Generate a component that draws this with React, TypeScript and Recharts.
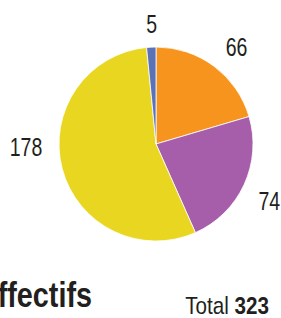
import React from "react";
import { PieChart, Pie, Cell } from "recharts";

const categories = ["A", "B", "C", "D"];
const values = [66, 74, 178, 5];
const colors = ["#F7941D", "#A65DAA", "#E9D620", "#5B72B6"];
const title = "Effectifs";
const totalLabel = "Total";
const totalValue = 323;

const data = categories.map((name, i) => ({ name, value: values[i] }));

const CX = 156;
const CY = 144;
const R = 97;
const FONT = "'Liberation Sans', Arial, sans-serif";
const TEXT = "#231F20";

// label angle tweak (deg, clockwise) and radius per slice
const labelTweak = [
  { da: 3, r: 126 },
  { da: 2, r: 127 },
  { da: 13.4, r: 130 },
  { da: 0.7, r: 120 },
];

const SText = ({ x, y, sx, anchor, children, ...rest }: any) => (
  <text
    transform={`translate(${x},${y}) scale(${sx},1)`}
    x={0}
    y={0}
    textAnchor={anchor}
    fontFamily={FONT}
    fill={TEXT}
    {...rest}
  >
    {children}
  </text>
);

const renderLabel = (props: any) => {
  const { midAngle, index, value } = props;
  const t = labelTweak[index] || { da: 0, r: 125 };
  const theta = ((90 - midAngle + t.da) * Math.PI) / 180;
  const x = CX + t.r * Math.sin(theta);
  const y = CY - t.r * Math.cos(theta);
  return (
    <SText key={`l-${index}`} x={x} y={y + 9} sx={0.78} anchor="middle" fontSize={25}>
      {value}
    </SText>
  );
};

export default function App() {
  return (
    <div style={{ position: "absolute", left: 0, top: 0, width: 281, height: 318, background: "#fff" }}>
      <PieChart width={281} height={318} margin={{ top: 0, right: 0, bottom: 0, left: 0 }}>
        <Pie
          data={data}
          dataKey="value"
          cx={CX}
          cy={CY}
          outerRadius={R}
          startAngle={90}
          endAngle={-270}
          stroke="#ffffff"
          strokeWidth={0.8}
          label={renderLabel}
          labelLine={false}
          isAnimationActive={false}
        >
          {data.map((d, i) => (
            <Cell key={d.name} fill={colors[i]} />
          ))}
        </Pie>
        <SText x={92} y={307} sx={0.8} anchor="end" fontWeight="bold" fontSize={36}>
          {title}
        </SText>
        <SText x={269} y={314} sx={0.86} anchor="end" fontSize={24}>
          {totalLabel} <tspan fontWeight="bold">{totalValue}</tspan>
        </SText>
      </PieChart>
    </div>
  );
}
